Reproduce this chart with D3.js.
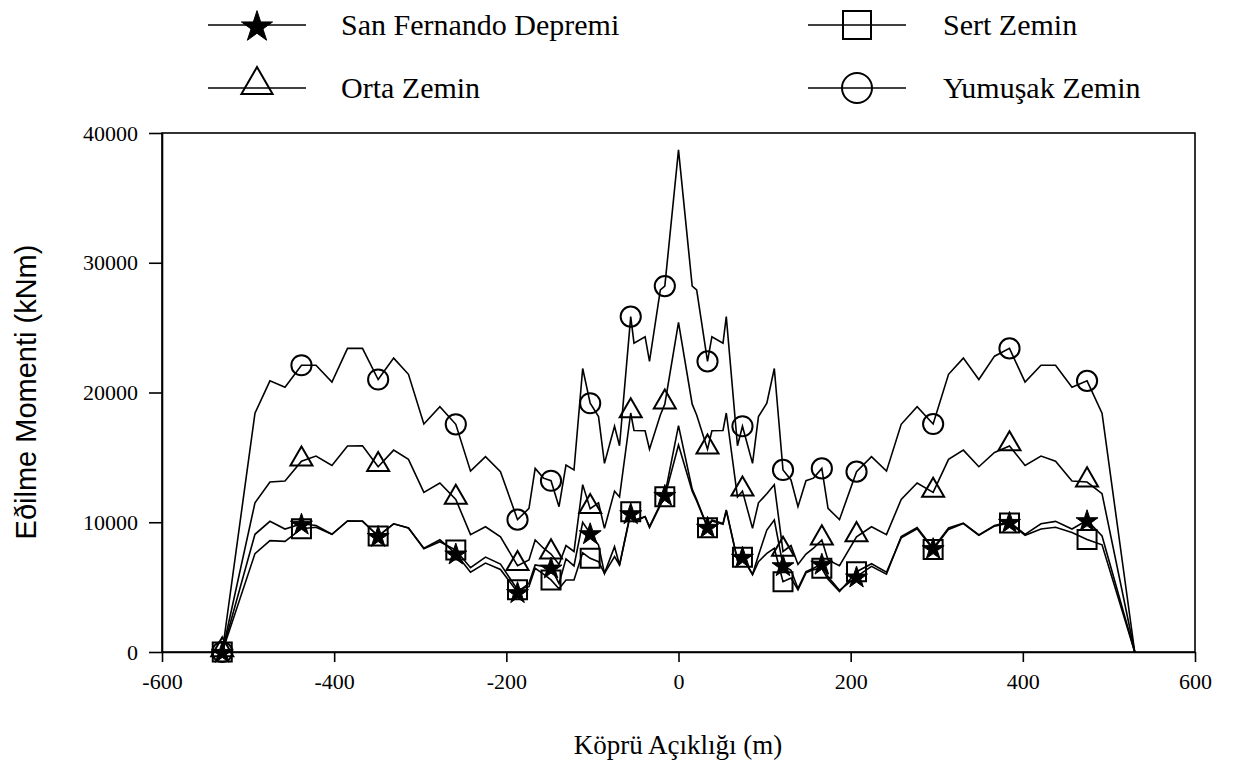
<!DOCTYPE html>
<html>
<head>
<meta charset="utf-8">
<script src="https://cdn.jsdelivr.net/npm/d3@7"></script>
<style>
  html, body { margin: 0; padding: 0; background: #fff; }
  svg { display: block; }
</style>
</head>
<body>
<svg id="chart" width="1233" height="774"></svg>
<script>
// Node positions along the bridge (m)
const spanX = [-530, -492, -474.6, -457.1, -438, -421.1, -402.6, -384.5, -367.1, -348.9, -330.9, -313.7, -295.8, -277.2, -258.7, -241.6, -224.2, -206.8, -187, -173.7, -166.5, -156.8, -148.1, -138.8, -130.7, -121.4, -111.3, -102.6, -92.9, -86, -74.3, -68.5, -55.5, -51.7, -38.8, -33.7, -21.1, -15.9,
  0,
  15.9, 21.1, 33.7, 38.8, 51.7, 55.5, 68.5, 74.3, 86, 92.9, 102.6, 111.3, 121.4, 130.7, 138.8, 148.1, 156.8, 166.5, 173.7, 187, 206.8, 224.2, 241.6, 258.7, 277.2, 295.8, 313.7, 330.9, 348.9, 367.1, 384.5, 402.6, 421.1, 438, 457.1, 474.6, 492, 530];

// Bending moment envelopes (kNm)
const sanFernando = [0, 9071, 10073, 9478, 9883, 9748, 9071, 10100, 10100, 8936, 9883, 9559, 8000, 8650, 7583, 6150, 6853, 6365, 4606, 5293, 6706, 6600, 6500, 5283, 7177, 6636, 10000, 9146, 8247, 6063, 8118, 6705, 10687, 10044, 10430, 9660, 11400, 12101,
  17450,
  12550, 11750, 9640, 10170, 9900, 10950, 7100, 7330, 6000, 7460, 9400, 10170, 6680, 6300, 4900, 6200, 6450, 6800, 5800, 4750, 5810, 6600, 6000, 8900, 9600, 8000, 9560, 9940, 9020, 9750, 10020, 9070, 9880, 10070, 9480, 10150, 8940, 0];

const sertZemin = [0, 7583, 8584, 8530, 9500, 9613, 9071, 10100, 10073, 8936, 9883, 9559, 7950, 8500, 7853, 6500, 7313, 6771, 4796, 5035, 6448, 6000, 5553, 4877, 5553, 5553, 7650, 7220, 6963, 6063, 7348, 6705, 10816, 10173, 10430, 9600, 11300, 11972,
  15950,
  12400, 11650, 9580, 10100, 9850, 10900, 7050, 7300, 5950, 6960, 7600, 7990, 5420, 5700, 4800, 6100, 6350, 6450, 5600, 4650, 6190, 6800, 6150, 8800, 9500, 7900, 9450, 9900, 9000, 9700, 9950, 9000, 9480, 9610, 9210, 8665, 8260, 0];

const ortaZemin = [0, 11500, 13100, 13185, 14700, 15105, 14380, 15880, 15890, 14280, 15560, 14850, 12300, 13020, 11760, 9045, 9650, 8880, 6650, 7100, 8630, 8000, 7550, 6750, 8200, 7750, 12900, 11050, 11500, 9530, 12400, 11950, 18420, 17070, 17050, 15630, 18270, 19100,
  25400,
  19100, 18270, 15630, 17050, 17070, 18420, 11950, 12400, 9530, 11500, 12200, 12900, 7750, 8200, 6750, 7550, 8000, 8630, 7100, 6650, 8880, 9650, 9045, 11760, 13020, 12300, 14850, 15560, 14280, 15380, 15880, 14380, 15105, 14700, 13185, 13100, 12200, 0];

const yumusakZemin = [0, 18400, 20900, 20400, 22100, 22100, 20800, 23400, 23400, 21000, 22650, 21400, 17570, 18900, 17550, 13940, 15050, 13900, 10200, 11070, 14150, 13400, 13200, 11200, 14400, 14030, 21850, 19170, 18140, 14540, 17400, 15900, 25850, 23800, 24300, 22400, 27900, 28200,
  38700,
  28200, 27900, 22400, 24300, 23800, 25850, 15900, 17400, 14540, 18140, 19170, 21850, 14030, 13260, 11200, 13200, 13400, 14150, 11070, 10200, 13900, 15050, 13940, 17550, 18900, 17570, 21400, 22650, 21000, 22800, 23400, 20800, 22100, 22100, 20400, 20900, 18400, 0];

// Nodes that carry a symbol
const markerX = [-530, -438, -348.9, -258.7, -187, -148.1, -102.6, -55.5, -15.9, 33.7, 74.3, 121.4, 166.5, 206.8, 295.8, 384.5, 474.6];

const xTicks = [-600, -400, -200, 0, 200, 400, 600];
const yTicks = [0, 10000, 20000, 30000, 40000];

const seriesNames = ["San Fernando Depremi", "Sert Zemin", "Orta Zemin", "Yumuşak Zemin"];

const series = [
  { name: seriesNames[0], values: sanFernando, shape: "star" },
  { name: seriesNames[1], values: sertZemin, shape: "square" },
  { name: seriesNames[2], values: ortaZemin, shape: "triangle" },
  { name: seriesNames[3], values: yumusakZemin, shape: "circle" }
];

const svg = d3.select("#chart");
const plot = { left: 162, right: 1195, top: 133, bottom: 652 };

const x = d3.scaleLinear().domain([-600, 600]).range([plot.left, plot.right]);
const y = d3.scaleLinear().domain([0, 40000]).range([plot.bottom, plot.top]);

const serif = "'Liberation Serif', 'Times New Roman', serif";
const sans = "'Liberation Sans', Arial, sans-serif";

// Marker path generator per shape, sized for plot or legend
function markerPath(shape, big) {
  const sizes = big
    ? { star: 300, square: 784, triangle: 420, circle: 707 }
    : { star: 150, square: 361, triangle: 210, circle: 320 };
  const types = { star: d3.symbolStar, square: d3.symbolSquare, triangle: d3.symbolTriangle, circle: d3.symbolCircle };
  return d3.symbol().type(types[shape]).size(sizes[shape])();
}
function markerStyle(sel, shape) {
  if (shape === "star") sel.attr("fill", "#000").attr("stroke", "#000").attr("stroke-width", 1);
  else sel.attr("fill", "none").attr("stroke", "#000").attr("stroke-width", 2);
}
function markerOffset(shape, big) {
  // centre triangles and stars on their bounding box
  if (shape === "triangle") return big ? -3 : -2;
  if (shape === "star") return big ? 2 : 1;
  return 0;
}

// Frame
svg.append("rect")
  .attr("x", plot.left).attr("y", plot.top)
  .attr("width", plot.right - plot.left).attr("height", plot.bottom - plot.top)
  .attr("fill", "none").attr("stroke", "#000").attr("stroke-width", 1.6);

// Axes
const xAxis = svg.append("g")
  .attr("transform", `translate(0,${plot.bottom})`)
  .call(d3.axisBottom(x).tickValues(xTicks).tickSize(10).tickPadding(11).tickSizeOuter(0).tickFormat(d3.format("d")));
const yAxis = svg.append("g")
  .attr("transform", `translate(${plot.left},0)`)
  .call(d3.axisLeft(y).tickValues(yTicks).tickSize(13).tickPadding(11).tickSizeOuter(0).tickFormat(d3.format("d")));

[xAxis, yAxis].forEach(g => {
  g.select(".domain").attr("stroke", "#000").attr("stroke-width", 1.6);
  g.selectAll(".tick line").attr("stroke", "#000").attr("stroke-width", 1.6);
  g.selectAll(".tick text").attr("fill", "#000").style("font-family", serif).style("font-size", "22px");
});
xAxis.selectAll(".tick text").text(d => d < 0 ? "-" + Math.abs(d) : d);

// Axis titles
svg.append("text")
  .attr("x", 678).attr("y", 754)
  .attr("text-anchor", "middle")
  .style("font-family", serif).style("font-size", "27px")
  .text("Köprü Açıklığı (m)");

svg.append("text")
  .attr("transform", "translate(36,392) rotate(-90)")
  .attr("text-anchor", "middle")
  .style("font-family", sans).style("font-size", "29px")
  .text("Eðilme Momenti (kNm)");

// Lines
const line = d3.line().x((d, i) => x(spanX[i])).y(d => y(d));
const g = svg.append("g");
series.forEach(s => {
  g.append("path")
    .datum(s.values)
    .attr("d", line)
    .attr("fill", "none")
    .attr("stroke", "#000")
    .attr("stroke-width", 1.6)
    .attr("stroke-linejoin", "miter");
});

// Symbols at the flagged nodes
series.forEach(s => {
  const pts = spanX.map((sx, i) => ({ sx, v: s.values[i] })).filter(p => markerX.includes(p.sx));
  const sel = g.selectAll(null).data(pts).enter().append("path")
    .attr("d", markerPath(s.shape, false))
    .attr("transform", p => `translate(${x(p.sx)},${y(p.v) + markerOffset(s.shape, false)})`);
  markerStyle(sel, s.shape);
});

// Legend
const legendItems = [
  { s: series[0], cx: 257, cy: 25, tx: 341 },
  { s: series[1], cx: 857, cy: 25, tx: 943 },
  { s: series[2], cx: 257, cy: 88, tx: 341 },
  { s: series[3], cx: 857, cy: 88, tx: 943 }
];
const legend = svg.append("g");
legendItems.forEach(it => {
  legend.append("line")
    .attr("x1", it.cx - 49).attr("x2", it.cx + 49)
    .attr("y1", it.cy).attr("y2", it.cy)
    .attr("stroke", "#000").attr("stroke-width", 1.6);
  const m = legend.append("path")
    .attr("d", markerPath(it.s.shape, true))
    .attr("transform", `translate(${it.cx},${it.cy + markerOffset(it.s.shape, true)})`);
  markerStyle(m, it.s.shape);
  legend.append("text")
    .attr("x", it.tx).attr("y", it.cy + 10)
    .style("font-family", serif).style("font-size", "30px")
    .text(it.s.name);
});
</script>
</body>
</html>
